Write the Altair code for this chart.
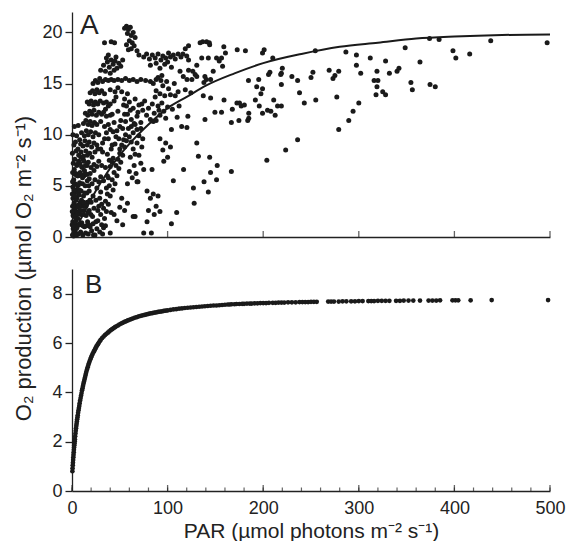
import altair as alt
import pandas as pd

FONT = "Liberation Sans"
INK = "#1a1a1a"

# ---------------- Panel A: measured O2 production (PAR, O2) ----------------
a_left_column = [
    (0.5, 0.2), (1.2, 0.8), (0.8, 1.5), (2.0, 0.4), (1.5, 2.3), (0.6, 3.0), (2.5, 1.1), (3.1, 2.0),
    (1.0, 3.8), (2.2, 3.3), (3.5, 0.6), (4.0, 1.6), (2.8, 4.4), (0.9, 4.9), (3.8, 3.0), (4.6, 2.4),
    (5.2, 0.9), (5.0, 3.8), (1.8, 5.6), (3.2, 5.2), (4.4, 4.6), (6.0, 1.8), (6.3, 3.1), (5.7, 5.0),
    (0.7, 6.3), (2.4, 6.6), (6.8, 0.3), (7.2, 2.5), (7.5, 4.1), (4.0, 6.2), (8.1, 1.2), (8.6, 3.4),
    (6.5, 6.0), (9.0, 0.5), (9.4, 2.2), (8.0, 5.3), (10.2, 1.4), (10.5, 3.0), (9.6, 4.5), (11.3, 0.2),
    (11.8, 2.2), (12.0, 4.0), (13.0, 1.0), (13.5, 3.2), (14.2, 0.4), (14.8, 2.1), (15.5, 4.3), (16.3, 1.5),
    (17.0, 0.3), (18.0, 2.6), (19.0, 1.0), (1.3, 7.2), (3.0, 7.6), (0.4, 8.2), (2.0, 9.0), (5.1, 7.1),
    (7.0, 7.4), (0.3, 4.2), (0.2, 1.2), (1.6, 0.1), (4.8, 0.2), (2.9, 2.7), (3.6, 1.3), (6.1, 4.4),
    (5.4, 2.2), (7.8, 3.0), (9.2, 6.1), (11.0, 5.2), (12.5, 6.0), (13.8, 5.0), (10.7, 6.8), (4.3, 8.4),
    (1.1, 2.1), (2.6, 0.7), (7.3, 1.2), (12.6, 2.6), (16.0, 3.4), (17.5, 5.0), (20.5, 0.6), (21.5, 2.0),
    (22.5, 0.2),
]

a_left_fill = [
    (1.5, 1.0), (3.0, 0.2), (0.3, 2.5), (2.0, 2.0), (4.2, 3.6), (3.3, 4.0), (5.8, 2.9), (6.8, 5.1),
    (8.8, 2.6), (7.9, 4.6), (9.9, 3.6), (11.5, 1.1), (12.2, 3.4), (13.3, 4.3), (14.6, 3.0), (15.2, 1.1),
    (16.8, 2.4), (18.6, 3.6), (19.7, 2.2), (17.6, 1.2), (14.0, 6.2), (15.8, 7.0), (11.6, 7.6), (9.3, 7.8),
    (6.2, 8.6), (3.6, 9.3), (1.0, 10.0), (4.8, 9.9), (8.0, 9.5), (2.5, 10.8), (6.5, 10.9), (0.6, 5.4),
    (2.0, 4.6), (3.4, 6.1), (5.5, 6.0),
]

a_left_branch = [
    (6, 6.0), (8.5, 6.3), (11, 5.8), (13, 6.5), (15.5, 6.1), (18, 5.7),
    (5, 7.0), (8, 7.2), (10, 6.9), (12.5, 7.4), (14, 7.0), (17, 7.3), (20, 6.8), (23, 7.1),
    (7, 8.0), (9.5, 8.3), (12, 7.9), (14.5, 8.4), (16, 8.0), (18.5, 8.2), (21, 7.8), (24, 8.3),
    (9, 9.1), (11.5, 8.9), (13.5, 9.4), (16, 9.0), (18, 9.3), (20.5, 8.8), (23, 9.2), (26, 9.0),
    (10, 10.2), (13, 9.9), (15, 10.4), (17, 10.0), (19.5, 10.3), (22, 9.8), (24.5, 10.2), (28, 10.0),
    (12, 11.1), (14.5, 11.4), (17, 11.0), (19, 11.3), (21, 10.9), (23.5, 11.2), (26, 11.0), (30, 11.3),
    (14, 12.1), (16.5, 11.9), (18.5, 12.3), (21, 12.0), (23, 12.4), (25.5, 11.9), (28, 12.2), (31, 12.0),
    (16, 13.2), (18, 13.0), (20, 13.3), (22.5, 12.9), (24.5, 13.2), (27, 13.0), (29.5, 13.3), (33, 13.1),
    (36, 13.2), (40, 13.0), (44, 13.3),
    (19, 14.1), (21.5, 14.3), (24, 14.0), (26, 14.4), (28.5, 14.1), (31, 14.3), (34, 14.0),
]

a_row_15 = [
    (22, 15.0), (24.5, 15.3), (27, 15.1), (29, 15.5), (32, 15.2), (35, 15.4), (38, 15.3), (41, 15.4),
    (44, 15.3), (48, 15.4), (52, 15.3), (56, 15.5), (60, 15.3), (64, 15.4), (68, 15.2), (72, 15.4),
    (77, 15.3), (82, 15.2), (88, 15.4), (93, 15.3),
]

a_plateau = [
    (30, 16.3), (33, 16.8), (35, 16.2), (37, 17.1), (39, 16.6), (41, 17.3), (43, 16.9), (45, 17.2),
    (47, 16.5), (49, 17.0), (51, 16.7), (53, 17.3), (36, 17.5), (40, 16.0), (44, 16.3), (38, 17.8),
    (46, 17.6),
]

a_top = [
    (34, 19.0), (41, 19.1), (44.5, 19.0), (55, 20.4), (57, 20.6), (59, 20.3), (61, 20.5), (58, 19.9),
    (62, 19.7), (60, 19.2), (63, 19.0), (64, 20.0), (57, 18.8), (62, 18.4), (65, 18.7), (66, 19.5),
    (68, 18.2), (70, 17.8), (59, 18.3),
]

a_row_17 = [
    (75, 17.6), (78, 17.9), (81, 17.4), (84, 17.8), (87, 17.5), (90, 17.9), (93, 17.3), (95, 17.7),
    (98, 17.5), (101, 18.0), (103, 17.6), (106, 17.8), (108, 17.4), (111, 17.9), (114, 17.6), (116, 17.9),
    (82, 16.8), (88, 17.0), (97, 16.9), (104, 16.6), (100, 17.1), (92, 16.5),
]

a_middle = [
    (85, 15.0), (88, 14.3), (90, 15.6), (92, 14.0), (95, 14.8), (97, 13.8), (99, 15.2), (101, 14.5),
    (103, 13.9), (87, 13.7), (94, 15.8),
    (58, 12.0), (60, 13.2), (62, 11.5), (64, 12.6), (66, 13.5), (68, 11.8), (70, 12.9), (72, 11.2),
    (74, 12.4), (76, 13.3), (78, 11.9), (61, 12.4), (65, 11.1), (69, 12.2), (73, 13.0),
    (80, 12.6), (82, 11.5), (84, 13.0), (86, 12.1), (88, 11.4), (90, 12.8), (92, 11.9), (94, 13.1),
    (96, 12.3), (98, 11.6), (100, 12.7), (85, 11.3), (91, 12.4),
    (36, 11.8), (38, 12.8), (40, 10.5), (42, 12.0), (44, 11.2), (46, 13.7), (48, 12.3), (50, 10.8),
    (52, 14.2), (54, 12.9), (56, 11.3), (58, 14.0), (38, 9.6), (42, 9.0), (46, 9.8), (50, 8.6),
    (54, 9.5), (34, 10.8), (32, 9.2), (48, 14.6), (55, 13.5), (45, 14.2), (40, 14.4), (37, 8.1),
]

a_middle_fill = [
    (33, 5.5), (35, 6.8), (37, 6.0), (39, 7.5), (41, 8.6), (43, 7.7), (45, 9.1), (47, 10.4),
    (49, 9.6), (51, 11.4), (53, 10.6), (55, 12.0), (57, 12.8), (32, 8.3), (34, 9.6), (36, 10.2),
    (30, 8.6), (28, 7.4), (27, 8.6), (33, 12.2), (35, 12.5), (38, 11.0), (40, 11.9), (43, 10.3),
    (28, 3.0), (30, 4.4), (31, 3.2), (25, 1.5), (22, 1.3), (33, 0.9), (35, 1.1), (36, 4.8),
    (38, 5.8), (40, 6.9), (42, 7.3), (40, 0.4), (44, 2.2), (47, 1.6), (50, 2.9), (52, 3.8),
    (55, 2.6), (58, 3.3), (53, 1.2),
]

a_second_branch = [
    (24, 0.2), (26, 0.8), (27, 1.6), (29, 0.5), (30, 2.2), (31, 1.2), (33, 2.8), (32, 0.3),
    (34, 1.8), (35, 3.5), (36, 2.5), (37, 4.2), (38, 3.2), (39, 5.0), (40, 4.0), (41, 2.4),
    (42, 5.6), (43, 4.6), (44, 6.3), (45, 5.2), (46, 7.0), (47, 6.0), (48, 7.6), (49, 6.7),
    (50, 8.2), (51, 7.3), (52, 9.0), (53, 8.0), (55, 8.8), (56, 10.0), (57, 9.4), (59, 10.6),
    (60, 9.8), (62, 10.8), (64, 10.2), (66, 11.0), (68, 10.5), (70, 9.9), (72, 10.6), (74, 9.6),
    (16, 5.5), (18, 4.5), (20, 3.4), (21, 5.2), (22, 4.0), (23, 2.8), (24, 5.6), (25, 3.6),
    (26, 4.8), (27, 2.6), (28, 5.4), (29, 3.8), (19, 6.2), (23, 6.5), (26, 6.9), (30, 5.9), (31, 7.0),
    (58, 5.2), (60, 6.4), (61, 7.8), (63, 5.8), (64, 8.6), (65, 7.0), (67, 6.2), (68, 9.2),
    (69, 5.4), (70, 8.0), (72, 7.2), (73, 8.8), (75, 6.6), (62, 9.3), (66, 8.1),
    (92, 9.6), (95, 8.5), (98, 9.2), (100, 7.8), (103, 8.8), (96, 7.4),
]

a_low_right = [
    (83.7, 6.6), (68, 5.4), (66, 2.0), (64, 2.0), (78.5, 4.5), (82, 3.8), (85, 4.2), (88, 3.0),
    (90, 4.0), (80, 2.6), (92, 2.5), (86, 2.2), (78.5, 1.5), (75, 0.4), (83, 0.4), (106, 5.5),
    (109.5, 2.4), (104, 1.3), (116.4, 15.7), (113, 16.2), (105, 12.5), (108, 13.8), (110, 11.7),
    (107, 15.0), (111, 14.2), (104, 10.5), (112, 12.8), (114.7, 10.8),
]

a_right_mid = [
    (118.5, 18.4), (121.9, 18.7), (134, 19.0), (136.7, 19.1), (140.8, 19.1), (143.6, 19.0), (144, 18.8),
    (120, 17.7), (121.9, 17.3), (135.7, 17.5), (142.6, 17.5),
    (151.2, 17.5), (154, 17.2), (156.4, 17.5), (158.8, 18.6), (160.5, 18.0), (157.5, 16.7), (130.5, 16.8),
    (121.9, 16.3), (126.4, 16.2), (128.8, 15.9), (130.5, 15.7), (125.4, 15.4), (120.3, 15.4),
    (147.7, 16.2), (139, 15.7), (140.5, 15.4), (138, 15.1), (145, 15.4),
    (118.5, 14.4), (124.3, 14.1), (137.3, 13.8), (145, 13.6), (159, 13.4),
    (172.8, 18.3), (181.4, 18.2), (199.3, 18.0), (201, 18.3), (210, 17.5),
    (184.6, 15.3), (195.3, 15.4), (193.2, 14.7), (199.3, 14.5), (197.6, 14.0),
    (205.6, 15.9), (207, 16.1), (191.8, 13.4), (195.9, 12.8), (211, 13.4), (212.5, 11.9),
    (204.5, 12.4), (199.3, 12.1), (208, 12.3),
    (167.7, 12.5), (172.5, 13.1), (177, 12.8), (180.3, 12.9), (175.2, 13.1),
    (149.5, 12.2), (156.4, 12.2), (184.9, 12.1), (184.9, 11.6), (183.8, 11.4),
    (174.6, 11.4), (166.7, 11.2), (139.1, 11.5), (121.2, 11.8), (120.2, 10.7), (130.5, 9.2),
    (132.2, 7.9), (144, 7.8), (151.9, 7.0), (144.9, 6.3), (151.2, 5.6), (138.1, 5.4), (127, 4.8),
    (142.6, 4.4), (127.8, 3.3), (116.7, 6.6), (166.7, 6.4), (203.8, 7.5),
]

a_right_far = [
    (220, 16.5), (219, 16.0), (218.3, 15.9), (219, 14.9), (215, 12.8), (219, 12.8), (223.5, 8.5),
    (236, 9.5), (230, 15.7), (236, 15.3), (238, 14.1), (243, 13.1), (250, 15.6), (252, 16.1),
    (255, 13.4), (254.5, 18.2), (269, 16.3), (273, 15.5), (275, 15.8), (279, 16.2), (277, 13.7),
    (279, 10.5), (286.5, 18.1), (289.5, 11.4), (294, 12.3), (297.5, 17.8), (297.5, 16.8), (302, 16.0),
    (300, 13.1), (312, 17.5), (316, 15.3), (320, 15.3), (319, 16.2), (319, 14.7), (318, 13.9),
    (325, 14.2), (328, 13.9), (328, 17.2), (332, 16.0), (340, 16.2), (342, 16.5), (348.5, 18.5),
    (354.5, 15.1), (356, 14.4), (364, 17.1), (374, 19.4), (384, 19.3), (374.5, 14.9), (380, 14.7),
    (398.5, 18.2), (401.5, 17.5), (416, 17.9), (438, 19.2), (497, 19.0),
]

# fitted curve in panel A
curve_par = [0, 10, 20, 30, 45, 60, 80, 100, 120, 140, 170, 200, 240, 280, 320, 360, 400, 450, 500]
curve_o2 = [0.2, 1.9, 3.7, 5.3, 7.4, 9.1, 11.0, 12.6, 13.7, 14.8, 16.0, 17.0, 17.9, 18.6, 19.0, 19.4, 19.6, 19.75, 19.8]

# ---------------- Panel B: modelled O2 production ----------------
b_par = [
    0.4, 0.6, 0.8, 1.0, 1.2, 1.4, 1.6, 1.8, 2.0, 2.2, 2.4, 2.6, 2.8, 3.0, 3.3, 3.6, 3.9, 4.2, 4.5, 4.8,
    5.1, 5.4, 5.7, 6.0, 6.4, 6.8, 7.2, 7.6, 8.0, 8.5, 9.0, 9.5, 10.0,
    10.5, 11, 11.5, 12, 12.5, 13, 13.5, 14, 14.5, 15, 15.7, 16.4, 17.1, 17.8, 18.5, 19.2, 20, 20.8,
    21.6, 22.4, 23.2, 24, 24.8, 25.6, 26.4, 27.2, 28, 29, 30,
    31.5, 33, 34.5, 36, 37.5, 39, 40.5, 42, 43.5, 45, 46.5, 48, 49.5, 51, 52.5, 54, 55.5, 57, 58.5, 60,
    62, 64, 66, 68, 70, 72, 74, 76, 78, 80, 82, 84, 86, 88, 90, 92, 94, 96, 98, 100,
    103, 106, 109, 112, 115, 118, 121, 124, 127, 130, 133, 136, 139, 142, 145, 148, 151, 154, 157, 160,
    163, 165, 167, 170, 172, 175, 178, 180, 183, 186, 188, 191, 194, 197, 200, 203, 206, 210, 213, 216,
    219, 222, 226, 230, 234, 238, 241, 244, 247, 250, 253, 256,
    268, 271, 274, 279, 283, 287, 292, 296, 300, 304,
    310, 313, 316, 320, 324, 328, 332, 339, 343, 347, 352, 357, 364,
    373, 377, 381, 385, 398, 401, 404, 417, 439, 498,
]
b_o2 = [
    0.80, 0.92, 1.04, 1.15, 1.26, 1.37, 1.47, 1.57, 1.67, 1.76, 1.85, 1.94, 2.02, 2.10, 2.22, 2.33, 2.44, 2.54, 2.64, 2.73,
    2.82, 2.91, 2.99, 3.07, 3.17, 3.27, 3.36, 3.45, 3.56, 3.67, 3.77, 3.87, 3.97,
    4.08, 4.17, 4.26, 4.35, 4.43, 4.51, 4.59, 4.67, 4.75, 4.83, 4.93, 5.02, 5.11, 5.19, 5.27, 5.34, 5.42, 5.49,
    5.56, 5.62, 5.68, 5.74, 5.80, 5.86, 5.91, 5.96, 6.01, 6.07, 6.13,
    6.20, 6.26, 6.32, 6.37, 6.42, 6.47, 6.52, 6.56, 6.60, 6.64, 6.68, 6.71, 6.75, 6.78, 6.81, 6.84, 6.87, 6.89, 6.92, 6.94,
    6.97, 7.00, 7.03, 7.05, 7.08, 7.10, 7.12, 7.14, 7.16, 7.18, 7.20, 7.21, 7.23, 7.24, 7.26, 7.27, 7.28, 7.30, 7.31, 7.32,
    7.34, 7.36, 7.37, 7.39, 7.40, 7.42, 7.43, 7.44, 7.45, 7.46, 7.47, 7.48, 7.49, 7.50, 7.51, 7.52, 7.52, 7.53, 7.54, 7.55,
    7.56, 7.56, 7.57, 7.57, 7.58, 7.58, 7.59, 7.59, 7.60, 7.60, 7.60, 7.61, 7.61, 7.62, 7.62, 7.62, 7.63, 7.63, 7.63, 7.64,
    7.64, 7.64, 7.65, 7.65, 7.65, 7.66, 7.66, 7.66, 7.66, 7.67, 7.67, 7.67,
    7.68, 7.68, 7.68, 7.68, 7.69, 7.69, 7.69, 7.69, 7.70, 7.70,
    7.70, 7.70, 7.70, 7.71, 7.71, 7.71, 7.71, 7.71, 7.71, 7.72, 7.72, 7.72, 7.72,
    7.72, 7.72, 7.72, 7.73, 7.73, 7.73, 7.73, 7.73, 7.74, 7.74,
]

major_ticks = [0, 100, 200, 300, 400, 500]
minor_ticks = [0, 20, 40, 60, 80, 100, 120, 140, 160, 180, 200, 220, 240, 260, 280, 300, 320, 340,
               360, 380, 400, 420, 440, 460, 480, 500]
y_ticks_a = [0, 5, 10, 15, 20]
y_ticks_b = [0, 2, 4, 6, 8]
panel_labels = ["A", "B"]

# ---------------- build ----------------
a_all = (a_left_column + a_left_fill + a_left_branch + a_row_15 + a_plateau + a_top + a_row_17
         + a_middle + a_middle_fill + a_second_branch + a_low_right + a_right_mid + a_right_far)
df_a = pd.DataFrame(a_all, columns=["par", "o2"])
df_curve = pd.DataFrame({"par": curve_par, "o2": curve_o2})
df_b = pd.DataFrame({"par": b_par, "o2": b_o2})
df_major = pd.DataFrame({"t": major_ticks})
df_minor = pd.DataFrame({"t": minor_ticks})

W, HA, HB = 478, 225, 222
xscale = alt.Scale(domain=[0, 500], nice=False, zero=False)
ya_scale = alt.Scale(domain=[0, 22], nice=False)
yb_scale = alt.Scale(domain=[0, 9], nice=False)

y_title = "O₂ production (µmol O₂ m⁻² s⁻¹)"
x_title = "PAR (µmol photons m⁻² s⁻¹)"

xa = alt.X("par:Q", scale=xscale, axis=alt.Axis(labels=False, ticks=False, title=None))
ya = alt.Y("o2:Q", scale=ya_scale,
           axis=alt.Axis(values=y_ticks_a, tickSize=7, labelPadding=3, title=y_title,
                         titleY=256, titlePadding=6))

pts_a = alt.Chart(df_a).mark_circle(size=25, color=INK, opacity=1).encode(x=xa, y=ya)
line_a = alt.Chart(df_curve).mark_line(color=INK, strokeWidth=2, interpolate="monotone").encode(
    x=alt.X("par:Q", scale=xscale), y=alt.Y("o2:Q", scale=ya_scale))
ticks_a = alt.Chart(df_major).mark_tick(orient="vertical", size=6, thickness=1.3, color="#222", yOffset=-3).encode(
    x=alt.X("t:Q", scale=xscale), y=alt.datum(0))
label_a = alt.Chart(pd.DataFrame({"lab": [panel_labels[0]]})).mark_text(
    align="left", baseline="top", fontSize=28, font=FONT, color="#222").encode(
    x=alt.value(8), y=alt.value(0), text="lab:N")

panel_a = alt.layer(pts_a, line_a, ticks_a, label_a).properties(width=W, height=HA)

xb = alt.X("par:Q", scale=xscale,
           axis=alt.Axis(values=major_ticks, ticks=False, labelPadding=8, labelFlush=False,
                         title=x_title, titlePadding=3, titleFontSize=21))
yb = alt.Y("o2:Q", scale=yb_scale,
           axis=alt.Axis(values=y_ticks_b, tickSize=7, labelPadding=3, title=None))

pts_b = alt.Chart(df_b).mark_circle(size=22, color=INK, opacity=1).encode(x=xb, y=yb)
minor_b = alt.Chart(df_minor).mark_tick(orient="vertical", size=3.5, thickness=1.2, color="#222", yOffset=-1.75).encode(
    x=alt.X("t:Q", scale=xscale), y=alt.datum(0))
major_b = alt.Chart(df_major).mark_tick(orient="vertical", size=6, thickness=1.3, color="#222", yOffset=-3).encode(
    x=alt.X("t:Q", scale=xscale), y=alt.datum(0))
label_b = alt.Chart(pd.DataFrame({"lab": [panel_labels[1]]})).mark_text(
    align="left", baseline="top", fontSize=26, font=FONT, color="#222").encode(
    x=alt.value(13), y=alt.value(3), text="lab:N")

panel_b = alt.layer(pts_b, minor_b, major_b, label_b).properties(width=W, height=HB)

chart = (
    alt.vconcat(panel_a, panel_b, spacing=32, bounds="flush")
    .properties(padding={"left": 4, "top": 4, "right": 0, "bottom": 0})
    .configure(font=FONT)
    .configure_view(stroke=None)
    .configure_axis(
        labelFont=FONT, titleFont=FONT, labelFontSize=18, titleFontSize=22,
        labelColor="#222", titleColor="#222", domainColor="#222", tickColor="#222",
        domainWidth=1.3, tickWidth=1.3, grid=False, titleFontWeight="normal",
    )
)

chart.save("out.html", embed_options={"renderer": "svg", "actions": False})
